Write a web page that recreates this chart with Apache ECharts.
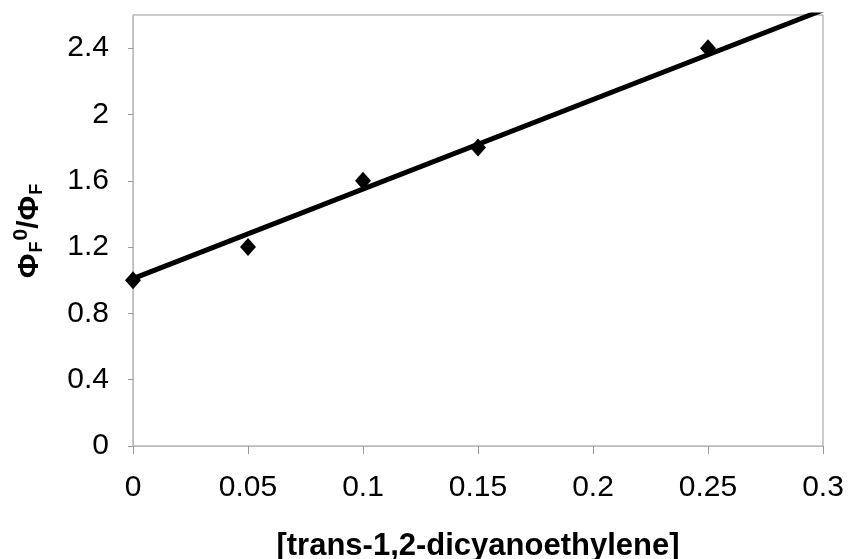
<!DOCTYPE html>
<html>
<head>
<meta charset="utf-8">
<script src="https://cdn.jsdelivr.net/npm/echarts@6/dist/echarts.min.js"></script>
<style>
html,body{margin:0;padding:0;background:#fff;}
#chart{width:848px;height:559px;}
</style>
</head>
<body>
<div id="chart"></div>
<script>
// Measured data points
const concentrations = [0, 0.05, 0.1, 0.15, 0.25];
const ratios = [1.0, 1.2, 1.6, 1.8, 2.4];
// Linear fit line endpoints
const fitX = [0, 0.3];
const fitY = [1.01, 2.63];
const xTitle = '[trans-1,2-dicyanoethylene]';

const FONT = 'Arial, "Liberation Sans", sans-serif';
const chart = echarts.init(document.getElementById('chart'), null, {renderer: 'canvas'});
chart.setOption({
  animation: false,
  backgroundColor: '#ffffff',
  grid: {left: 133, right: 25, top: 15, bottom: 113, outerBoundsMode: 'none', containLabel: false,
    show: true, borderColor: '#999', borderWidth: 1},
  xAxis: {
    type: 'value', min: 0, max: 0.3, interval: 0.05,
    name: xTitle, nameLocation: 'middle', nameGap: 85,
    nameTextStyle: {fontFamily: FONT, fontSize: 31, fontWeight: 'bold', color: '#000'},
    axisLine: {show: true, lineStyle: {color: '#bbb', width: 1}},
    axisTick: {show: true, inside: false, length: 8, lineStyle: {color: '#999'}},
    axisLabel: {fontFamily: FONT, fontSize: 30, color: '#000', margin: 27},
    splitLine: {show: false}
  },
  yAxis: {
    type: 'value', min: 0, max: 2.6, interval: 0.4,
    name: '{a|Φ}{s|F}{p|0}{a|/Φ}{s|F}', nameLocation: 'middle', nameRotate: 90, nameGap: 84,
    nameTextStyle: {
      fontFamily: FONT, fontWeight: 'bold', color: '#000',
      rich: {
        a: {fontFamily: FONT, fontSize: 30, fontWeight: 'bold', color: '#000', lineHeight: 38, verticalAlign: 'middle'},
        s: {fontFamily: FONT, fontSize: 18, fontWeight: 'bold', color: '#000', lineHeight: 38, verticalAlign: 'bottom', padding: [0,1,3,1]},
        p: {fontFamily: FONT, fontSize: 21, fontWeight: 'bold', color: '#000', lineHeight: 38, verticalAlign: 'top'}
      }
    },
    axisLine: {show: true, lineStyle: {color: '#bbb', width: 1}},
    axisTick: {show: true, inside: false, length: 5, lineStyle: {color: '#999'}},
    axisLabel: {fontFamily: FONT, fontSize: 30, color: '#000', margin: 24, showMaxLabel: false,
      formatter: function (v) { return String(Math.round(v * 10) / 10); }},
    splitLine: {show: false}
  },
  series: [
    {
      type: 'line',
      data: fitX.map((x, i) => [x, fitY[i]]),
      showSymbol: false, symbol: 'none',
      lineStyle: {color: '#000', width: 5},
      clip: true, z: 2
    },
    {
      type: 'scatter',
      data: concentrations.map((x, i) => [x, ratios[i]]),
      symbol: 'diamond', symbolSize: [16, 18],
      itemStyle: {color: '#000', opacity: 1},
      clip: false, z: 3
    }
  ]
});
</script>
</body>
</html>
